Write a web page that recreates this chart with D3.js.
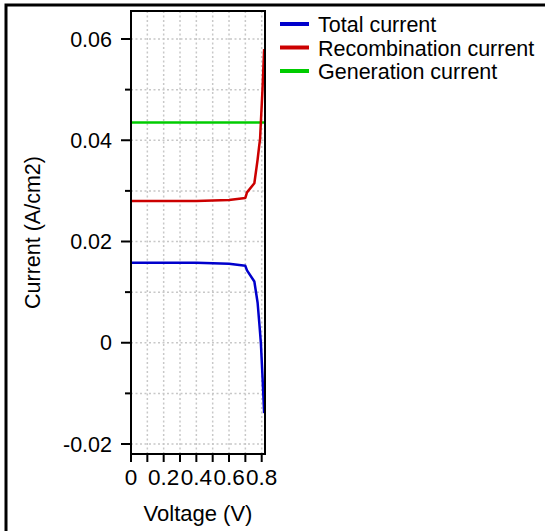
<!DOCTYPE html>
<html>
<head>
<meta charset="utf-8">
<script src="https://cdn.jsdelivr.net/npm/d3@7"></script>
<style>
  body { margin: 0; background: #fff; }
  svg { display: block; font-family: 'Liberation Sans', Arial, sans-serif; }
</style>
</head>
<body>
<script>
// DATA
const voltage = [0, 0.1, 0.2, 0.3, 0.4, 0.5, 0.6, 0.7, 0.71, 0.755, 0.775, 0.785, 0.79, 0.795, 0.805, 0.815];
const totalCurrent = [0.0158, 0.0158, 0.0158, 0.0158, 0.0158, 0.0157, 0.0156, 0.0152, 0.0143, 0.0121, 0.0079, 0.004, 0.002, -0.0001, -0.0067, -0.0139];
const recombCurrent = [0.0280, 0.0280, 0.0280, 0.0280, 0.0280, 0.0281, 0.0282, 0.0286, 0.0297, 0.0315, 0.0362, 0.039, 0.0402, 0.0436, 0.0501, 0.058];
const genCurrent = [0.0435, 0.0435, 0.0435, 0.0435, 0.0435, 0.0435, 0.0435, 0.0435, 0.0435, 0.0435, 0.0435, 0.0435, 0.0435, 0.0435, 0.0435, 0.0435];

const seriesNames = ['Total current', 'Recombination current', 'Generation current'];
const seriesColors = ['#0000cc', '#cc0000', '#00cc00'];
const seriesValues = [totalCurrent, recombCurrent, genCurrent];

const yTickValues = [-0.02, 0, 0.02, 0.04, 0.06];
const yMinorValues = [-0.01, 0.01, 0.03, 0.05];
const xTickLabels = ['0', '0.2', '0.4', '0.6', '0.8'];

// LAYOUT
const width = 545;
const height = 531;
const plotLeft = 131;
const plotRight = 265;
const plotTop = 11;
const plotBottom = 454;

const x = d3.scaleLinear().domain([0, 0.8]).range([plotLeft, plotLeft + 130.7]);
const y = d3.scaleLinear().domain([-0.02, 0.06]).range([444, 39]);

const svg = d3
  .select('body')
  .append('svg')
  .attr('width', width)
  .attr('height', height);

// OUTER FRAME
svg.append('rect')
  .attr('x', 6)
  .attr('y', 5)
  .attr('width', 600)
  .attr('height', 600)
  .attr('fill', 'none')
  .attr('stroke', '#000')
  .attr('stroke-width', 3);

// GRID
const xGrid = d3.range(1, 9).map((d) => d / 10);
const yGrid = d3.range(-2, 7).map((d) => d / 100);

svg.append('g')
  .selectAll('line')
  .data(xGrid)
  .join('line')
  .attr('x1', (d) => x(d))
  .attr('x2', (d) => x(d))
  .attr('y1', plotTop)
  .attr('y2', plotBottom)
  .attr('stroke', '#c8c8c8')
  .attr('stroke-width', 1.5)
  .attr('stroke-dasharray', '2,2.5');

svg.append('g')
  .selectAll('line')
  .data(yGrid)
  .join('line')
  .attr('x1', plotLeft)
  .attr('x2', plotRight)
  .attr('y1', (d) => y(d))
  .attr('y2', (d) => y(d))
  .attr('stroke', '#c8c8c8')
  .attr('stroke-width', 1.5)
  .attr('stroke-dasharray', '2,2.5');

// CURVES
const line = d3
  .line()
  .x((d) => x(d[0]))
  .y((d) => y(d[1]));

const clip = svg.append('clipPath').attr('id', 'plot-clip');
clip.append('rect')
  .attr('x', plotLeft)
  .attr('y', plotTop)
  .attr('width', plotRight - plotLeft)
  .attr('height', plotBottom - plotTop);

const curves = svg.append('g').attr('clip-path', 'url(#plot-clip)');

// generation first, total next, recombination on top
[2, 0, 1].forEach((i) => {
  curves.append('path')
    .datum(voltage.map((v, j) => [v, seriesValues[i][j]]))
    .attr('d', line)
    .attr('fill', 'none')
    .attr('stroke', seriesColors[i])
    .attr('stroke-width', 2.5)
    .attr('stroke-linejoin', 'round');
});

// PLOT BORDER
svg.append('rect')
  .attr('x', plotLeft)
  .attr('y', plotTop)
  .attr('width', plotRight - plotLeft)
  .attr('height', plotBottom - plotTop)
  .attr('fill', 'none')
  .attr('stroke', '#000')
  .attr('stroke-width', 2);

// Y AXIS
const yAxis = svg.append('g').attr('stroke', '#000').attr('stroke-width', 2);

yAxis.selectAll('line.major')
  .data(yTickValues)
  .join('line')
  .attr('class', 'major')
  .attr('x1', plotLeft - 10)
  .attr('x2', plotLeft)
  .attr('y1', (d) => y(d))
  .attr('y2', (d) => y(d));

yAxis.selectAll('line.minor')
  .data(yMinorValues)
  .join('line')
  .attr('class', 'minor')
  .attr('x1', plotLeft - 6)
  .attr('x2', plotLeft)
  .attr('y1', (d) => y(d))
  .attr('y2', (d) => y(d));

svg.append('g')
  .selectAll('text')
  .data(yTickValues)
  .join('text')
  .attr('x', plotLeft - 19)
  .attr('y', (d) => y(d))
  .attr('dy', '0.36em')
  .attr('text-anchor', 'end')
  .attr('font-size', 21.5)
  .attr('fill', '#000')
  .text((d) => (d === 0 ? '0' : d3.format('.2f')(d).replace('−', '-')));

// X AXIS
svg.append('g')
  .attr('stroke', '#000')
  .attr('stroke-width', 2)
  .selectAll('line')
  .data(d3.range(0, 9).map((d) => d / 10))
  .join('line')
  .attr('x1', (d) => x(d))
  .attr('x2', (d) => x(d))
  .attr('y1', plotBottom)
  .attr('y2', plotBottom + 8);

svg.append('g')
  .selectAll('text')
  .data(xTickLabels)
  .join('text')
  .attr('x', (d) => x(+d))
  .attr('y', 485)
  .attr('text-anchor', 'middle')
  .attr('font-size', 22.5)
  .attr('fill', '#000')
  .text((d) => d);

// AXIS TITLES
svg.append('text')
  .attr('x', (plotLeft + plotRight) / 2)
  .attr('y', 521)
  .attr('text-anchor', 'middle')
  .attr('font-size', 22)
  .text('Voltage (V)');

svg.append('text')
  .attr('transform', `translate(40, ${(plotTop + plotBottom) / 2}) rotate(-90)`)
  .attr('text-anchor', 'middle')
  .attr('font-size', 21.5)
  .text('Current (A/cm2)');

// LEGEND
const legend = svg.append('g');
seriesNames.forEach((name, i) => {
  const ly = 24 + i * 23.5;
  legend.append('line')
    .attr('x1', 280)
    .attr('x2', 309)
    .attr('y1', ly)
    .attr('y2', ly)
    .attr('stroke', seriesColors[i])
    .attr('stroke-width', 4);
  legend.append('text')
    .attr('x', 318)
    .attr('y', ly + 8)
    .attr('font-size', 21.5)
    .text(name);
});
</script>
</body>
</html>
